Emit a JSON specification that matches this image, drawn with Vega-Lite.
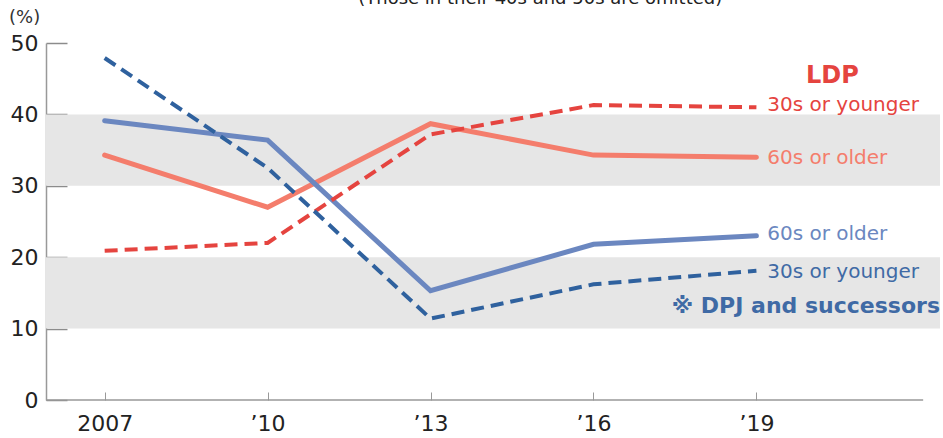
{
  "$schema": "https://vega.github.io/schema/vega-lite/v6.json",
  "autosize": "none",
  "width": 894,
  "height": 357,
  "padding": {"left": 46, "top": 43, "right": 3, "bottom": 38},
  "background": "white",
  "config": {
    "font": "DejaVu Sans",
    "view": {"stroke": null}
  },
  "data": {"values": [{}]},
  "datasets": {
    "bands": [{"lo": 10, "hi": 20}, {"lo": 30, "hi": 40}],
    "series": [
      {"series": "LDP 30s or younger", "year": 2007, "value": 20.9},
      {"series": "LDP 30s or younger", "year": 2010, "value": 22.0},
      {"series": "LDP 30s or younger", "year": 2013, "value": 37.2},
      {"series": "LDP 30s or younger", "year": 2016, "value": 41.3},
      {"series": "LDP 30s or younger", "year": 2019, "value": 41.0},
      {"series": "LDP 60s or older", "year": 2007, "value": 34.3},
      {"series": "LDP 60s or older", "year": 2010, "value": 27.0},
      {"series": "LDP 60s or older", "year": 2013, "value": 38.7},
      {"series": "LDP 60s or older", "year": 2016, "value": 34.3},
      {"series": "LDP 60s or older", "year": 2019, "value": 34.0},
      {"series": "DPJ 60s or older", "year": 2007, "value": 39.1},
      {"series": "DPJ 60s or older", "year": 2010, "value": 36.4},
      {"series": "DPJ 60s or older", "year": 2013, "value": 15.3},
      {"series": "DPJ 60s or older", "year": 2016, "value": 21.8},
      {"series": "DPJ 60s or older", "year": 2019, "value": 23.0},
      {"series": "DPJ 30s or younger", "year": 2007, "value": 47.9},
      {"series": "DPJ 30s or younger", "year": 2010, "value": 32.5},
      {"series": "DPJ 30s or younger", "year": 2013, "value": 11.4},
      {"series": "DPJ 30s or younger", "year": 2016, "value": 16.2},
      {"series": "DPJ 30s or younger", "year": 2019, "value": 18.1}
    ]
  },
  "layer": [
    {
      "data": {"name": "bands"},
      "mark": {"type": "rect", "color": "#e6e6e6"},
      "encoding": {
        "x": {"datum": 2005.92, "type": "quantitative", "scale": {"domain": [2005.92, 2022.38], "nice": false, "zero": false},
          "axis": {"values": [2007, 2010, 2013, 2016, 2019], "labelExpr": "datum.value == 2007 ? '2007' : '’' + substring(toString(datum.value), 2, 4)", "domain": false, "tickSize": -8, "tickColor": "#999999", "tickWidth": 1, "labelFontSize": 22, "labelColor": "#222222", "labelPadding": 21, "labelFont": "DejaVu Sans", "title": null, "grid": false}},
        "x2": {"datum": 2022.38},
        "y": {"field": "lo", "type": "quantitative", "scale": {"domain": [0, 50], "nice": false},
          "axis": {"values": [0, 10, 20, 30, 40, 50], "domainColor": "#999999", "domainWidth": 1.5, "tickSize": -21, "tickColor": "#8c8c8c", "tickWidth": 1.5, "labelFontSize": 22, "labelColor": "#222222", "labelPadding": 29, "labelFont": "DejaVu Sans", "title": null, "grid": false}},
        "y2": {"field": "hi"}
      }
    },
    {
      "mark": {"type": "rule", "color": "#999999", "strokeWidth": 1.5},
      "encoding": {
        "x": {"datum": 2005.92, "type": "quantitative"},
        "x2": {"datum": 2022.07},
        "y": {"datum": 0, "type": "quantitative"}
      }
    },
    {
      "data": {"name": "series"},
      "transform": [{"filter": "indexof(datum.series, '60s') >= 0"}],
      "mark": {"type": "line", "strokeCap": "round", "strokeWidth": 5},
      "encoding": {
        "x": {"field": "year", "type": "quantitative"},
        "y": {"field": "value", "type": "quantitative"},
        "color": {"field": "series", "type": "nominal", "legend": null,
          "scale": {"domain": ["LDP 30s or younger", "LDP 60s or older", "DPJ 60s or older", "DPJ 30s or younger"], "range": ["#e5443f", "#f47d6c", "#6b87c0", "#2f619e"]}}
      }
    },
    {
      "data": {"name": "series"},
      "transform": [{"filter": "indexof(datum.series, '30s') >= 0"}],
      "mark": {"type": "line", "strokeWidth": 4, "strokeDash": [13, 7]},
      "encoding": {
        "x": {"field": "year", "type": "quantitative"},
        "y": {"field": "value", "type": "quantitative"},
        "color": {"field": "series", "type": "nominal", "legend": null}
      }
    },
    {
      "mark": {"type": "text", "text": "(Those in their 40s and 50s are omitted)", "fontSize": 18, "color": "#222222", "align": "center", "baseline": "alphabetic"},
      "encoding": {"x": {"datum": 2015.02, "type": "quantitative"}, "y": {"datum": 55.45, "type": "quantitative"}}
    },
    {
      "mark": {"type": "text", "text": "(%)", "fontSize": 18, "color": "#333333", "align": "left", "baseline": "middle", "dx": -37},
      "encoding": {"x": {"datum": 2005.92, "type": "quantitative"}, "y": {"datum": 53.5, "type": "quantitative"}}
    },
    {
      "mark": {"type": "text", "text": "LDP", "fontSize": 24, "fontWeight": "bold", "color": "#e5443f", "align": "center", "baseline": "middle"},
      "encoding": {"x": {"datum": 2020.4, "type": "quantitative"}, "y": {"datum": 45.4, "type": "quantitative"}}
    },
    {
      "mark": {"type": "text", "text": "30s or younger", "fontSize": 20, "color": "#e5443f", "align": "left", "baseline": "middle"},
      "encoding": {"x": {"datum": 2019.2, "type": "quantitative"}, "y": {"datum": 41.3, "type": "quantitative"}}
    },
    {
      "mark": {"type": "text", "text": "60s or older", "fontSize": 20, "color": "#f47d6c", "align": "left", "baseline": "middle"},
      "encoding": {"x": {"datum": 2019.2, "type": "quantitative"}, "y": {"datum": 33.9, "type": "quantitative"}}
    },
    {
      "mark": {"type": "text", "text": "60s or older", "fontSize": 20, "color": "#6b87c0", "align": "left", "baseline": "middle"},
      "encoding": {"x": {"datum": 2019.2, "type": "quantitative"}, "y": {"datum": 23.2, "type": "quantitative"}}
    },
    {
      "mark": {"type": "text", "text": "30s or younger", "fontSize": 20, "color": "#3f6aa5", "align": "left", "baseline": "middle"},
      "encoding": {"x": {"datum": 2019.2, "type": "quantitative"}, "y": {"datum": 17.9, "type": "quantitative"}}
    },
    {
      "mark": {"type": "text", "text": "※ DPJ and successors", "fontSize": 22, "fontWeight": "bold", "color": "#3f6aa5", "align": "right", "baseline": "middle"},
      "encoding": {"x": {"datum": 2022.38, "type": "quantitative"}, "y": {"datum": 13.2, "type": "quantitative"}}
    }
  ]
}
